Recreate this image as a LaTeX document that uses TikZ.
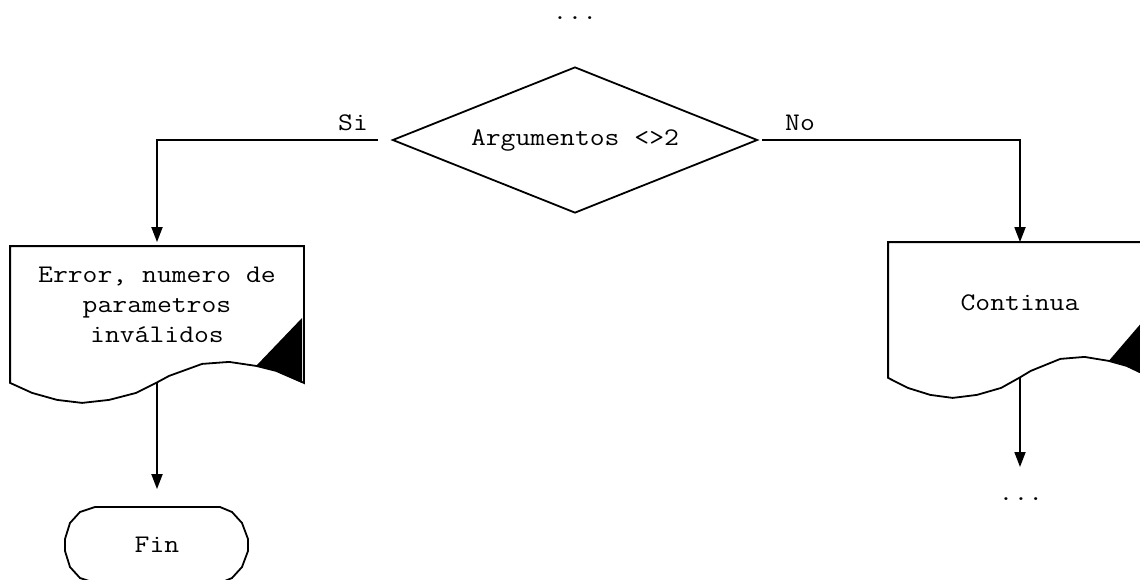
\documentclass[tikz,border=0pt]{standalone}
\usepackage{fontspec}
\newfontfamily\courfont[FakeStretch=1.14]{Latin Modern Mono}
\usetikzlibrary{arrows.meta,shapes.geometric}

% Outline of a "document" shape around an (undrawn) node: straight top and
% sides, wavy bottom edge and a black corner flag.  #1 node, #2 x-scale.
\newcommand\docoutline[2]{%
  \begin{scope}[shift={(#1.south west)}, xscale=#2]
    \draw (0,0) -- (#1.north west) -- (#1.north east) -- (#1.south east)
      -- (266,-12) -- (246,-17) -- (219,-21) -- (192,-19) -- (159,-7)
      -- (146,0) -- (126,10) -- (99,17) -- (72,20) -- (47,17) -- (22,10)
      -- cycle;
    \fill (246,-17) -- (292,-65) -- (292,0) -- (266,-12) -- cycle;
  \end{scope}}

\begin{document}
\begin{tikzpicture}[x=1pt, y=-1pt, line width=1.8pt,
  every node/.style={font=\courfont\fontsize{25.3}{30}\selectfont, inner sep=0pt},
  flow/.style={-{Triangle[length=15pt,width=11pt]}},
  decision/.style={diamond, draw, aspect=2.5,
    minimum width=365pt, minimum height=146pt},
  docbox/.style={rectangle, minimum height=135pt}]
  \clip (0,0) rectangle (1140,579);

  % nodes
  \node[anchor=base] (prev) at (575,19) {...};
  \node[decision] (dec) at (575,140) {Argumentos <>2};
  \node[docbox, minimum width=292pt] (err) at (157,314.5) {};
  \node[align=center] (errtext) at (157,305)
    {Error, numero de\\parametros\\inválidos};
  \node[docbox, minimum width=262pt, minimum height=134pt] (cont) at (1020,310) {};
  \node (conttext) at (1020,303) {Continua};
  \node[minimum width=184pt, minimum height=76pt] (fin) at (157,545) {Fin};
  \node[anchor=base] (next) at (1021,500) {...};
  \coordinate (endR) at (1020,467);

  % shapes
  \docoutline{err}{1}
  \docoutline{cont}{0.897}
  \draw[shift={(fin.center)}] (-62,-38) -- (63,-38) -- (75,-33) -- (85,-22)
    -- (91,-6) -- (91,6) -- (85,22) -- (75,33) -- (63,38) -- (-62,38)
    -- (-77,33) -- (-87,22) -- (-92,6) -- (-92,-6) -- (-87,-22)
    -- (-77,-33) -- cycle;

  % connectors
  \draw[flow, shorten >=4pt] ([xshift=-14pt]dec.west) -| (err.north);
  \draw[flow] ([xshift=4pt]dec.east) -| (cont.north);
  \draw[flow, shorten >=17pt] (err.south) -- (fin.north);
  \draw[flow] (cont.south) -- (endR);

  % branch labels
  \node[anchor=base] (si) at (353,130) {Si};
  \node[anchor=base] (no) at (800,130) {No};
\end{tikzpicture}
\end{document}
